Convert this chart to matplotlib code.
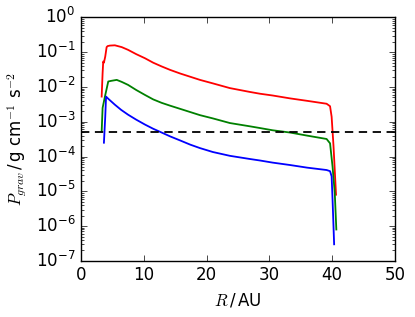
import numpy as np
import matplotlib
matplotlib.use("Agg")
import matplotlib.pyplot as plt

plt.style.use('classic')

# radius (AU) and gravitational pressure for the three discs
r_red = [3.3, 3.45, 3.55, 3.66, 3.87, 4.09, 4.25, 4.6, 5.4, 6.5, 7.5, 8.8,
         10.2, 11.5, 12.85, 14.2, 15.8, 18.95, 21.0, 23.7, 26.9, 28.5, 30.5,
         33.3, 36.0, 39.1, 39.65, 39.9, 40.2, 40.6]
p_red = [5.3e-3, 2.5e-2, 5.4e-2, 5.0e-2, 7.5e-2, 0.14, 0.15, 0.155, 0.158,
         0.14, 0.117, 0.088, 0.067, 0.05, 0.039, 0.031, 0.0244, 0.016, 0.0127,
         9.3e-3, 7.2e-3, 6.4e-3, 5.7e-3, 4.7e-3, 4.0e-3, 3.3e-3, 2.8e-3,
         1.4e-3, 2.0e-4, 8e-6]

r_green = [3.3, 3.45, 3.82, 4.35, 4.8, 5.7, 6.5, 7.5, 8.8, 10.2, 11.5, 12.85,
           14.2, 15.8, 18.95, 21.0, 23.7, 26.9, 28.5, 30.5, 33.3, 36.0, 39.1,
           39.65, 40.05, 40.4, 40.65]
p_green = [5.2e-4, 2.5e-3, 5.3e-3, 1.44e-2, 1.5e-2, 1.6e-2, 1.4e-2, 1.15e-2,
           8.2e-3, 5.9e-3, 4.4e-3, 3.5e-3, 2.9e-3, 2.35e-3, 1.55e-3, 1.25e-3,
           9.2e-4, 7.4e-4, 6.6e-4, 5.7e-4, 4.9e-4, 4.0e-4, 3.2e-4, 2.4e-4,
           5.1e-5, 9e-6, 8e-7]

r_blue = [3.66, 3.87, 4.0, 4.4, 5.4, 6.4, 7.5, 8.8, 10.2, 11.5, 12.85, 14.2,
          15.8, 17.4, 18.95, 21.0, 23.7, 26.9, 28.5, 30.5, 33.3, 36.0, 39.1,
          39.65, 39.9, 40.05, 40.3]
p_blue = [2.5e-4, 1.4e-3, 5.3e-3, 4.5e-3, 3.1e-3, 2.2e-3, 1.6e-3, 1.15e-3,
          8.3e-4, 6.3e-4, 4.9e-4, 3.8e-4, 2.9e-4, 2.2e-4, 1.75e-4, 1.35e-4,
          1.05e-4, 8.5e-5, 7.7e-5, 6.7e-5, 5.7e-5, 4.8e-5, 4.1e-5, 3.8e-5,
          2.7e-5, 5.7e-6, 3e-7]

p_crit = 5e-4

fig = plt.figure(figsize=(4.15, 3.17), dpi=100, facecolor='white')
ax = fig.add_axes([0.195, 0.177, 0.757, 0.768])
ax.plot(r_red, p_red, 'r', lw=1.3)
ax.plot(r_green, p_green, 'g', lw=1.3)
ax.plot(r_blue, p_blue, 'b', lw=1.3)
ax.axhline(p_crit, color='k', ls='--', lw=1.3, dashes=(6, 4))
ax.set_yscale('log')
ax.set_xlim(0, 50)
ax.set_ylim(1e-7, 1e0)
ax.set_xlabel(r'$R\,$/$\,$AU', fontsize=12)
ax.set_ylabel(r'$P_{grav}\,$/$\,$g cm$^{-1}$ s$^{-2}$', fontsize=12)
ax.tick_params(labelsize=12)
plt.savefig('out.png', dpi=100, facecolor='white')
plt.close()
